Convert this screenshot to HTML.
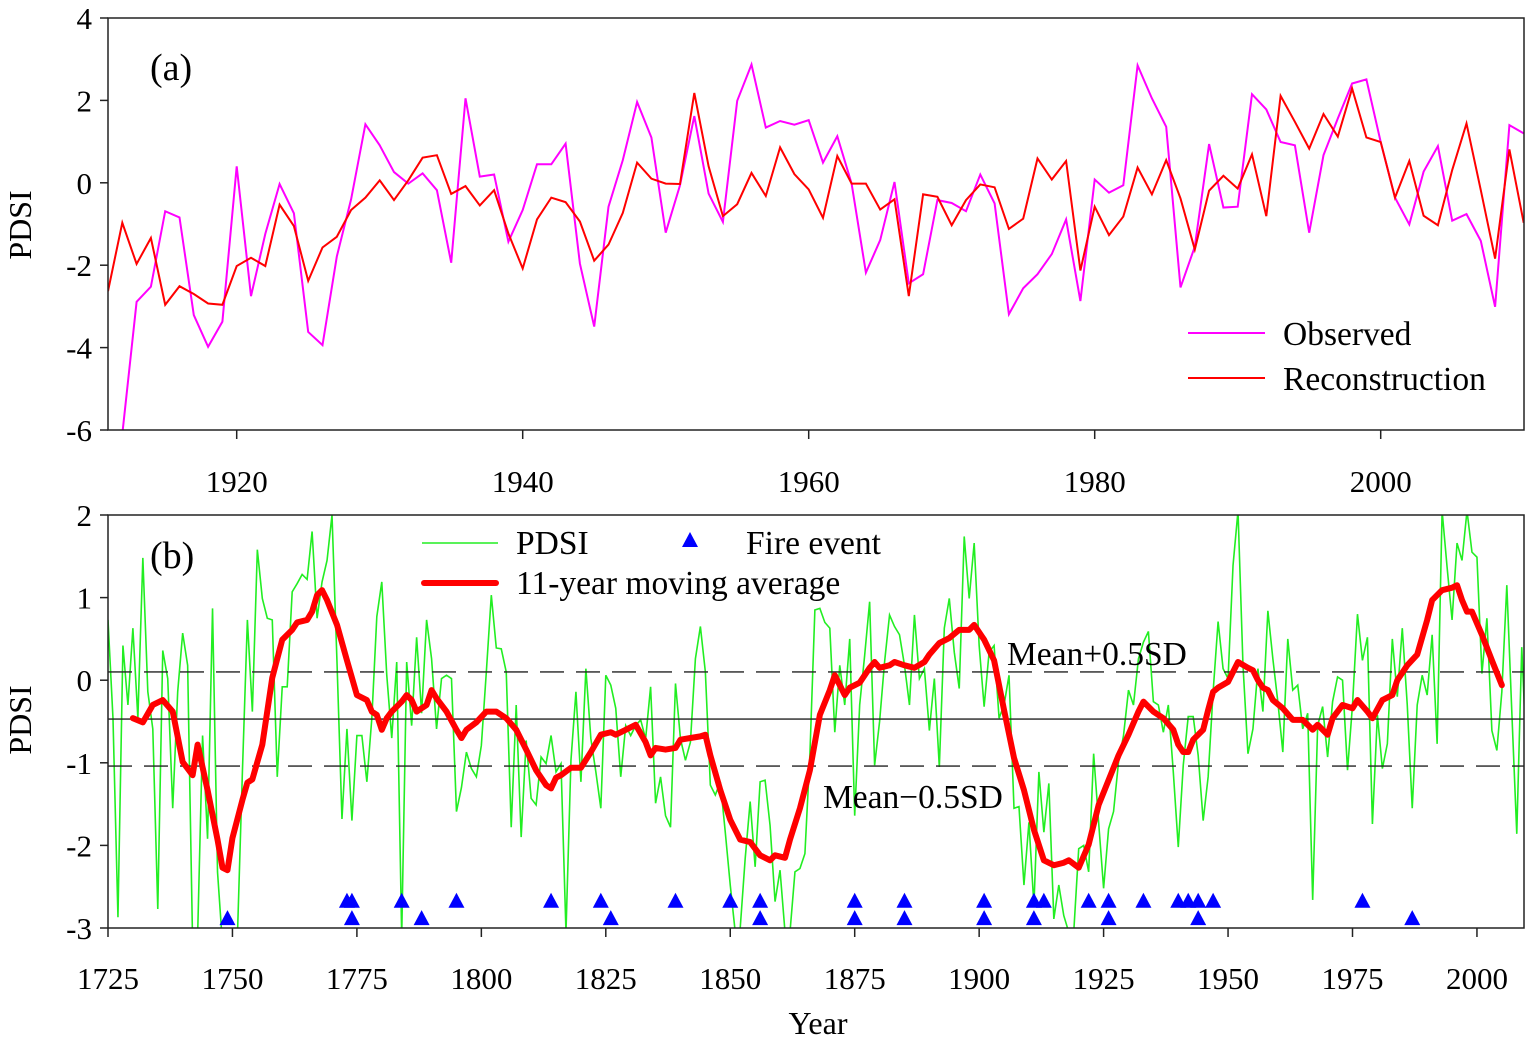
<!DOCTYPE html>
<html><head><meta charset="utf-8"><style>
body{margin:0;background:#fff}
svg{display:block}
text{font-family:"Liberation Serif",serif;fill:#000}
</style></head><body>
<svg id="chart" width="1532" height="1041" viewBox="0 0 1532 1041"></svg>
<script>
// ---------- Panel (a) data ----------
const aStartYear = 1911;
const observed = [-7,-6.1,-2.89,-2.52,-0.69,-0.84,-3.21,-3.98,-3.37,0.40,-2.75,-1.24,-0.03,-0.74,-3.62,-3.94,-1.79,-0.40,1.42,0.91,0.26,-0.02,0.23,-0.18,-1.94,2.05,0.15,0.20,-1.43,-0.66,0.45,0.45,0.95,-1.96,-3.49,-0.58,0.55,1.96,1.10,-1.21,-0.06,1.62,-0.26,-0.95,1.99,2.87,1.34,1.50,1.41,1.52,
0.49,1.13,-0.02,-2.18,-1.39,0.02,-2.44,-2.22,-0.42,-0.49,-0.69,0.20,-0.50,-3.19,-2.56,-2.22,-1.73,-0.89,-2.87,0.08,-0.24,-0.06,2.85,2.05,1.36,-2.54,-1.55,0.94,-0.60,-0.58,2.15,1.78,0.99,0.91,-1.21,0.67,1.56,2.41,2.51,0.99,-0.36,-1.01,0.27,0.89,-0.92,-0.76,-1.41,-3.01,1.40,1.20];
const reconstruction = [-2.63,-0.97,-1.97,-1.34,-2.96,-2.51,-2.70,-2.93,-2.96,-2.02,-1.82,-2.02,-0.53,-1.05,-2.38,-1.57,-1.31,-0.66,-0.36,0.06,-0.42,0.06,0.61,0.67,-0.27,-0.08,-0.55,-0.18,-1.23,-2.08,-0.89,-0.36,-0.47,-0.94,-1.89,-1.50,-0.73,0.49,0.10,-0.02,-0.03,2.18,0.40,-0.81,-0.52,0.24,-0.32,0.86,0.21,-0.16,
-0.85,0.65,-0.02,-0.02,-0.65,-0.40,-2.75,-0.28,-0.34,-1.03,-0.42,-0.04,-0.11,-1.12,-0.87,0.59,0.08,0.53,-2.13,-0.58,-1.27,-0.82,0.37,-0.28,0.55,-0.38,-1.62,-0.19,0.17,-0.14,0.69,-0.81,2.11,1.48,0.83,1.67,1.12,2.29,1.10,0.99,-0.36,0.53,-0.80,-1.03,0.31,1.44,-0.18,-1.84,0.81,-0.97];
const aYTicks = [4,2,0,-2,-4,-6];
const aXTicks = [1920,1940,1960,1980,2000];

// ---------- Panel (b) data ----------
const bStartYear = 1725;
const pdsi = [0.73,-0.46,-2.87,0.42,-0.30,0.63,-0.46,1.48,-0.14,-0.59,-2.77,0.36,0.02,-1.55,-0.14,0.57,0.18,-3.2,-3.1,-0.67,-1.92,0.87,-2.32,-3.2,-3.1,-3.3,-3.1,-1.11,0.73,-0.38,1.58,0.99,0.75,0.73,-1.17,-0.08,-0.08,1.07,1.17,1.28,1.22,1.80,0.75,1.19,1.45,2.0,0.22,-1.68,-0.59,-1.70,-0.67,-0.67,-1.23,-0.46,0.77,1.19,0.06,-0.70,0.22,-3.1,0.22,-0.55,0.52,-0.40,0.73,0.26,-0.59,0.02,0.06,0.02,-1.59,
-1.3,
-0.87,-1.07,-1.17,-0.79,0.10,1.03,0.39,0.38,0.10,-1.78,-0.30,-1.90,-0.73,-1.43,-1.51,-0.93,-1.01,-0.67,-1.11,-1.01,-3.05,-0.97,-0.14,-1.23,0.14,-0.71,-1.11,-1.55,0.06,-0.06,-0.34,-1.17,-0.55,-0.67,-0.55,-0.48,-0.71,-0.08,-1.49,-1.17,-1.64,-1.78,-0.04,-0.71,-0.97,-0.75,0.26,0.65,0.10,-1.27,-1.39,-1.23,-1.84,-2.48,-3.05,-3.0,-2.16,-1.47,-2.26,-1.23,-1.21,-1.76,-2.68,-2.30,-3.05,-3.05,-2.32,-2.28,-2.10,-0.9,
0.85,
0.87,0.70,0.63,-0.63,0.18,-0.30,0.50,-1.64,-0.30,0.30,0.95,-1.03,-0.50,0.22,0.79,0.65,0.55,0.18,-0.30,0.79,0.02,0.14,-0.61,0.02,-1.05,0.63,0.99,0.34,-0.10,1.74,0.99,1.66,0.42,-0.32,0.34,0.42,-0.46,-0.30,0.06,-1.55,-1.53,-2.48,-1.72,-2.73,-1.11,-1.84,-1.25,-2.89,-2.48,-2.85,-3.05,-3.05,-2.04,-2.0,-2.32,-0.89,-1.72,-2.52,-1.80,-1.59,-0.99,-0.67,-0.12,-0.30,0.26,0.46,0.59,-0.26,-0.30,-0.63,-0.30,
-1.11,-2.02,-1.03,-0.44,-0.44,-0.91,-1.70,-1.17,-0.14,0.71,0.14,0.02,1.39,2.05,0.18,-0.89,-0.59,0.14,-0.38,0.84,0.26,-0.26,-0.87,0.50,-0.12,-0.06,-0.59,-0.40,-2.66,-0.55,-0.32,-0.93,-0.26,0.04,0.0,-1.09,-0.30,0.80,0.24,0.52,-1.74,-0.42,-1.07,-0.77,0.50,-0.20,0.63,-0.30,-1.55,-0.30,0.06,-0.18,0.55,-0.77,2.05,1.37,0.73,1.66,1.45,2.05,1.55,1.49,0.08,0.75,-0.61,-0.85,-0.14,1.15,-0.38,-1.86,0.40,-0.99];
const maYears = [1730,1732,1734,1736,1738,1740,1742,1743,1745,1747,1748,1749,1750,1752,1753,1754,1756,1758,1760,1762,1763,1765,1766,1767,1768,1769,1771,1773,1775,1777,1778,1779,1780,1781,1782,1784,1785,1786,1787,1788,1789,1790,1791,1793,1795,1796,1797,1799,1801,1803,1805,1807,1809,1811,1813,1814,1815,1816,1818,1820,1822,1824,1826,1827,1829,1831,1833,1834,1835,1837,1839,1840,1842,1844,1845,1846,1848,1850,1852,1854,1856,1858,1859,1861,1862,1864,1866,1868,1870,1871,1872,1873,1874,1876,1878,1879,1880,1882,1883,1885,1887,1889,1890,1892,1894,1896,1898,1899,1901,1903,1905,1907,1909,1911,1913,1915,1917,1918,1920,1922,1924,1926,1928,1930,1932,1933,1935,1937,1939,1940,1941,1942,1943,1945,1946,1947,1948,1950,1952,1954,1955,1956,1957,1958,1959,1961,1963,1965,1967,1968,1970,1971,1973,1975,1976,1978,1979,1981,1983,1984,1986,1988,1990,1991,1993,1995,1996,1997,1998,1999,2001,2003,2005];
const maValues = [-0.46,-0.51,-0.30,-0.24,-0.38,-0.99,-1.15,-0.78,-1.33,-1.93,-2.27,-2.30,-1.91,-1.45,-1.24,-1.20,-0.78,0.03,0.49,0.61,0.70,0.73,0.83,1.03,1.09,0.97,0.67,0.24,-0.18,-0.24,-0.38,-0.42,-0.60,-0.46,-0.38,-0.26,-0.18,-0.24,-0.38,-0.34,-0.30,-0.12,-0.22,-0.38,-0.60,-0.70,-0.60,-0.51,-0.38,-0.38,-0.46,-0.60,-0.84,-1.09,-1.27,-1.31,-1.18,-1.15,-1.06,-1.06,-0.87,-0.66,-0.63,-0.66,-0.60,-0.54,-0.75,-0.91,-0.82,-0.84,-0.82,-0.72,-0.70,-0.68,-0.66,-0.91,-1.33,-1.69,-1.93,-1.96,-2.12,-2.18,-2.12,-2.15,-1.93,-1.55,-1.09,-0.42,-0.12,0.06,-0.06,-0.18,-0.09,-0.03,0.15,0.22,0.15,0.18,0.22,0.18,0.15,0.22,0.31,0.45,0.51,0.61,0.61,0.67,0.49,0.24,-0.36,-0.94,-1.33,-1.81,-2.18,-2.24,-2.21,-2.18,-2.27,-1.99,-1.51,-1.21,-0.91,-0.66,-0.38,-0.26,-0.38,-0.46,-0.60,-0.78,-0.87,-0.87,-0.72,-0.60,-0.36,-0.14,-0.09,-0.02,0.22,0.15,0.12,0.0,-0.09,-0.12,-0.24,-0.34,-0.48,-0.48,-0.60,-0.54,-0.66,-0.46,-0.30,-0.34,-0.24,-0.38,-0.46,-0.24,-0.18,0.0,0.18,0.31,0.73,0.97,1.09,1.12,1.15,0.97,0.83,0.83,0.55,0.24,-0.06];
const fireUpper = [1773,1774,1784,1795,1814,1824,1839,1850,1856,1875,1885,1901,1911,1913,1922,1926,1933,1940,1942,1944,1947,1977];
const fireLower = [1749,1774,1788,1826,1856,1875,1885,1901,1911,1926,1944,1987];
const refLines = [0.1,-0.47,-1.04];
const bYTicks = [2,1,0,-1,-2,-3];
const bXTicks = [1725,1750,1775,1800,1825,1850,1875,1900,1925,1950,1975,2000];

const NS="http://www.w3.org/2000/svg";
const svg=document.getElementById('chart');
function el(tag,attrs,parent){const e=document.createElementNS(NS,tag);for(const k in attrs)e.setAttribute(k,attrs[k]);(parent||svg).appendChild(e);return e;}
function txt(s,attrs,parent){const e=el('text',attrs,parent);e.textContent=s;return e;}

const L=108,R=1524;
const ax=y=>L+(y-1911)*14.3;
const ay=v=>18+(4-v)*41.2;
const bx=y=>L+(y-1725)*4.978;
const by=v=>515+(2-v)*82.6;
const TF=31, LF=33.5;

const defs=el('defs',{});
const cpA=el('clipPath',{id:'clipA'},defs);el('rect',{x:L,y:18,width:R-L,height:412},cpA);
const cpB=el('clipPath',{id:'clipB'},defs);el('rect',{x:L,y:515,width:R-L,height:413},cpB);

// ---- Panel A ----
const gA=el('g',{});


const obsPath=el('polyline',{points:observed.map((v,i)=>ax(aStartYear+i)+','+ay(v)).join(' '),fill:'none',stroke:'#ff00ff','stroke-width':2,'clip-path':'url(#clipA)'},gA);


const recPath=el('polyline',{points:reconstruction.map((v,i)=>ax(aStartYear+i)+','+ay(v)).join(' '),fill:'none',stroke:'#ff0000','stroke-width':2,'clip-path':'url(#clipA)'},gA);


el('rect',{x:L,y:18,width:R-L,height:412,fill:'none',stroke:'#222','stroke-width':1.5},gA);
aYTicks.forEach(t=>{el('line',{x1:L-8,x2:L,y1:ay(t),y2:ay(t),stroke:'#222','stroke-width':1.5},gA);
 const tt=txt(String(t),{x:L-16,y:ay(t)+11,'font-size':TF,'text-anchor':'end'},gA);
 });
aXTicks.forEach(t=>{el('line',{x1:ax(t),x2:ax(t),y1:430,y2:439,stroke:'#222','stroke-width':1.5},gA);
 const tt=txt(String(t),{x:ax(t),y:492,'font-size':TF,'text-anchor':'middle'},gA);
 });
const ylA=txt('PDSI',{x:0,y:0,'font-size':32,'text-anchor':'middle',transform:'translate(31,225) rotate(-90)'},gA);

const pa=txt('(a)',{x:150,y:80,'font-size':38},gA);

const lg1=el('g',{},gA);
el('line',{x1:1188,x2:1265,y1:333,y2:333,stroke:'#ff00ff','stroke-width':2},lg1);
txt('Observed',{x:1283,y:345,'font-size':LF},lg1);
const lg2=el('g',{},gA);
el('line',{x1:1188,x2:1265,y1:378,y2:378,stroke:'#ff0000','stroke-width':2},lg2);
txt('Reconstruction',{x:1283,y:390,'font-size':LF},lg2);

// ---- Panel B ----
const gB=el('g',{});


const gp=el('polyline',{points:pdsi.map((v,i)=>bx(bStartYear+i)+','+by(v)).join(' '),fill:'none',stroke:'#22ee22','stroke-width':1.6,'clip-path':'url(#clipB)'},gB);


refLines.forEach((v,i)=>{const ln=el('line',{x1:L,x2:R,y1:by(v),y2:by(v),stroke:'#222','stroke-width':1.4,'stroke-dasharray':i===1?'none':'24,12'},gB);
 
 });
const ma=el('polyline',{points:maYears.map((y,i)=>bx(y)+','+by(maValues[i])).join(' '),fill:'none',stroke:'#ff0000','stroke-width':6,'stroke-linejoin':'round','stroke-linecap':'round','clip-path':'url(#clipB)'},gB);


function tri(yr,v){const x=bx(yr),y=by(v);const p=el('polygon',{points:(x-8)+','+(y+7)+' '+(x+8)+','+(y+7)+' '+x+','+(y-8),fill:'#0000ff'},gB);
 }
fireUpper.forEach(y=>tri(y,-2.67));
fireLower.forEach(y=>tri(y,-2.88));
el('rect',{x:L,y:515,width:R-L,height:413,fill:'none',stroke:'#222','stroke-width':1.5},gB);
bYTicks.forEach(t=>{el('line',{x1:L-8,x2:L,y1:by(t),y2:by(t),stroke:'#222','stroke-width':1.5},gB);
 const tt=txt(String(t),{x:L-16,y:by(t)+11,'font-size':TF,'text-anchor':'end'},gB);
 });
bXTicks.forEach(t=>{el('line',{x1:bx(t),x2:bx(t),y1:928,y2:937,stroke:'#222','stroke-width':1.5},gB);
 const tt=txt(String(t),{x:bx(t),y:989,'font-size':TF,'text-anchor':'middle'},gB);
 });
const ylB=txt('PDSI',{x:0,y:0,'font-size':32,'text-anchor':'middle',transform:'translate(31,720) rotate(-90)'},gB);

const xlB=txt('Year',{x:818,y:1034,'font-size':32,'text-anchor':'middle'},gB);

const pb=txt('(b)',{x:150,y:568,'font-size':38},gB);

const mp=txt('Mean+0.5SD',{x:1007,y:665,'font-size':LF},gB);

const mm=txt('Mean\u22120.5SD',{x:823,y:808,'font-size':LF},gB);

const l1=el('g',{},gB);
el('line',{x1:422,x2:498,y1:543,y2:543,stroke:'#22ee22','stroke-width':1.6},l1);
txt('PDSI',{x:516,y:554,'font-size':LF},l1);
const l2=el('g',{},gB);
el('polygon',{points:'682,547 698,547 690,532',fill:'#0000ff'},l2);
txt('Fire event',{x:746,y:554,'font-size':LF},l2);
const l3=el('g',{},gB);
el('line',{x1:424,x2:496,y1:583,y2:583,stroke:'#ff0000','stroke-width':6,'stroke-linecap':'round'},l3);
txt('11-year moving average',{x:516,y:594,'font-size':LF},l3);
</script>
</body></html>
